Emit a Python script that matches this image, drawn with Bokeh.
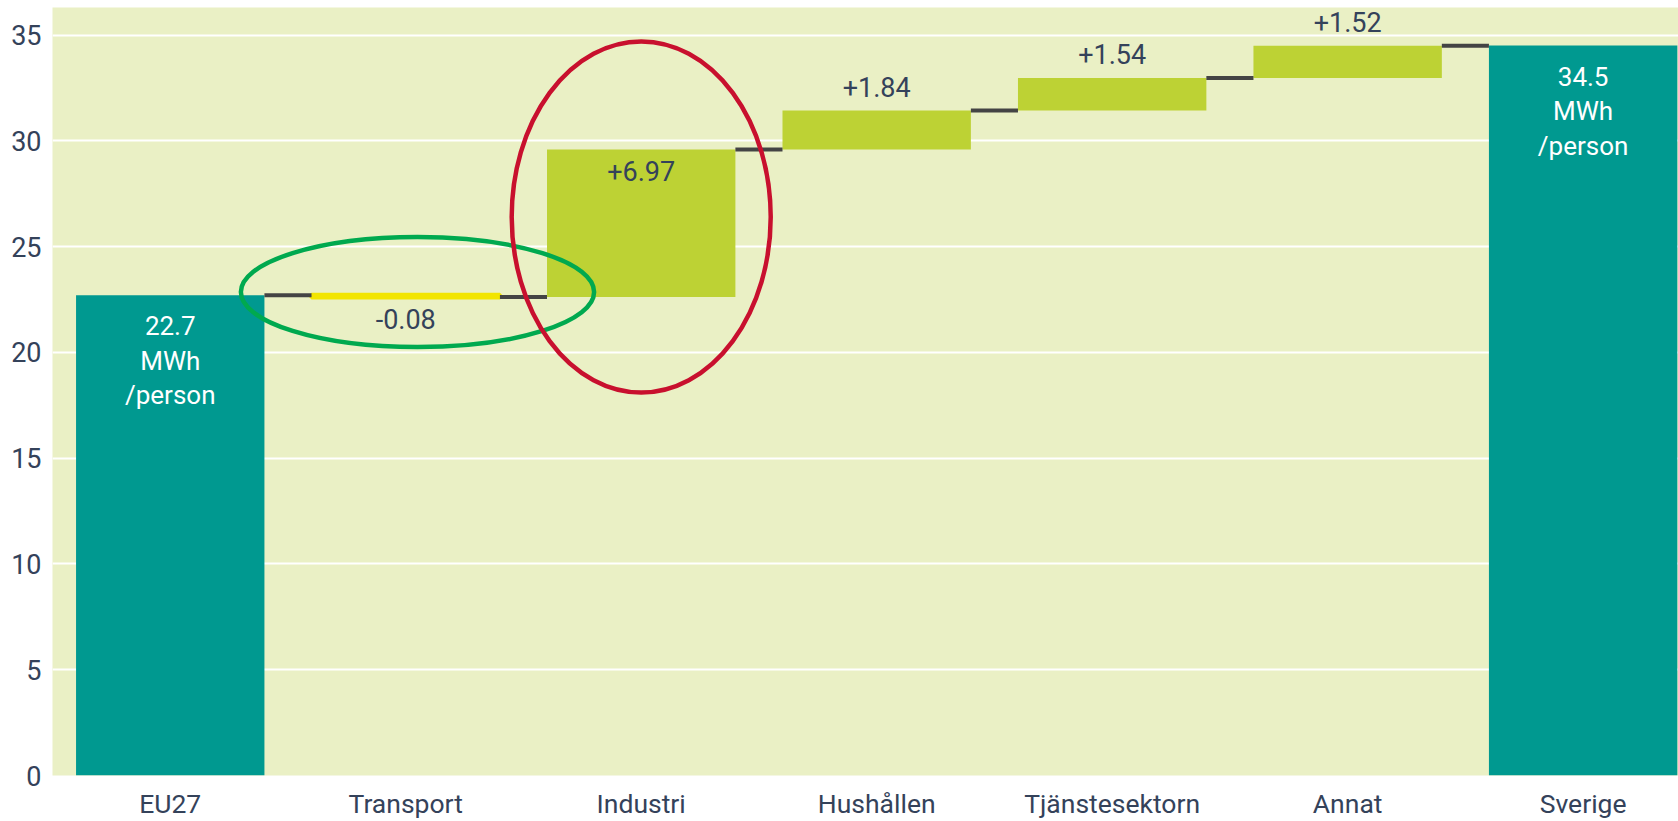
from bokeh.plotting import figure
from bokeh.models import Range1d, FixedTicker, ColumnDataSource
from bokeh.core.properties import value
from bokeh.embed import file_html
from bokeh.resources import INLINE

# ---- data ----
categories = ["EU27", "Transport", "Industri", "Hushållen", "Tjänstesektorn", "Annat", "Sverige"]
kinds = ["total", "delta", "delta", "delta", "delta", "delta", "total"]
values = [22.7, -0.08, 6.97, 1.84, 1.54, 1.52, 34.5]
total_labels = ["22.7\nMWh\n/person", "34.5\nMWh\n/person"]
delta_labels = ["-0.08", "+6.97", "+1.84", "+1.54", "+1.52"]
y_ticks = [0, 5, 10, 15, 20, 25, 30, 35]

# ---- styling ----
FONT = "Roboto"
TXT = "#34425a"
TEAL = "#009990"
GREEN = "#bdd234"
YELLOW = "#f2e500"
BG = "#eaf0c5"
CONN = "#444444"
BW = 0.8

# ---- waterfall geometry ----
xs, bottoms, tops, ends = [], [], [], []
running = 0.0
for i, (k, v) in enumerate(zip(kinds, values)):
    if k == "total":
        b, t = 0.0, v
        running = v
    else:
        b, t = running, running + v
        running = t
    xs.append(i)
    bottoms.append(min(b, t))
    tops.append(max(b, t))
    ends.append(running)

p = figure(width=1678, height=821, output_backend="svg", toolbar_location=None,
           x_range=Range1d(-0.5, 6.405), y_range=Range1d(0, 36.3),
           min_border_left=52, min_border_right=0, min_border_top=7, min_border_bottom=30)
p.background_fill_color = BG
p.border_fill_color = "white"
p.outline_line_color = None

# grid
p.xgrid.grid_line_color = None
p.ygrid.grid_line_color = "white"
p.ygrid.grid_line_width = 2
p.ygrid.ticker = FixedTicker(ticks=y_ticks)

# axes
p.yaxis.ticker = FixedTicker(ticks=y_ticks)
p.xaxis.ticker = FixedTicker(ticks=xs)
p.xaxis.major_label_overrides = {i: c for i, c in enumerate(categories)}
for ax in (p.xaxis[0], p.yaxis[0]):
    ax.axis_line_color = None
    ax.major_tick_line_color = None
    ax.minor_tick_line_color = None
    ax.major_tick_out = 0
    ax.major_tick_in = 0
    ax.minor_tick_out = 0
    ax.minor_tick_in = 0
    ax.major_label_text_font = FONT
    ax.major_label_text_color = TXT
p.xaxis.major_label_text_font_size = "26.5px"
p.yaxis.major_label_text_font_size = "27px"
p.xaxis.major_label_standoff = 12
p.yaxis.major_label_standoff = 11

# bars by kind
tot = dict(x=[], b=[], t=[])
inc = dict(x=[], b=[], t=[])
dec = dict(x=[], b=[], t=[])
for i, k in enumerate(kinds):
    d = tot if k == "total" else (inc if values[i] >= 0 else dec)
    d["x"].append(xs[i]); d["b"].append(bottoms[i]); d["t"].append(tops[i])

p.vbar(x="x", bottom="b", top="t", width=BW, source=ColumnDataSource(tot),
       fill_color=TEAL, line_color=None)
p.vbar(x="x", bottom="b", top="t", width=BW, source=ColumnDataSource(inc),
       fill_color=GREEN, line_color=None)
p.vbar(x="x", bottom="b", top="t", width=BW, source=ColumnDataSource(dec),
       fill_color=YELLOW, line_color=YELLOW, line_width=5)

# connectors
cx0 = [xs[i] + BW / 2 for i in range(len(xs) - 1)]
cx1 = [xs[i + 1] - BW / 2 for i in range(len(xs) - 1)]
cy = [ends[i] for i in range(len(xs) - 1)]
p.segment(x0=cx0, y0=cy, x1=cx1, y1=cy, line_color=CONN, line_width=4)

# total labels (inside, white)
tx = [xs[i] for i, k in enumerate(kinds) if k == "total"]
ty = [tops[i] for i, k in enumerate(kinds) if k == "total"]
p.text(x=tx, y=ty, text=total_labels, text_font=value(FONT), text_font_size="26px",
       text_color="white", text_align="center", text_baseline="top",
       text_line_height=1.15, y_offset=16)

# delta labels
din_x, din_y, din_t = [], [], []
dab_x, dab_y, dab_t = [], [], []
dbe_x, dbe_y, dbe_t = [], [], []
j = 0
for i, k in enumerate(kinds):
    if k != "delta":
        continue
    lab = delta_labels[j]; j += 1
    v = values[i]
    if abs(v) > 3:
        din_x.append(xs[i]); din_y.append(tops[i]); din_t.append(lab)
    elif v >= 0:
        dab_x.append(xs[i]); dab_y.append(tops[i]); dab_t.append(lab)
    else:
        dbe_x.append(xs[i]); dbe_y.append(bottoms[i]); dbe_t.append(lab)

common = dict(text_font=value(FONT), text_font_size="27px", text_color=TXT, text_align="center")
p.text(x=din_x, y=din_y, text=din_t, text_baseline="top", y_offset=12, **common)
p.text(x=dab_x, y=dab_y, text=dab_t, text_baseline="bottom", y_offset=-14, **common)
p.text(x=dbe_x, y=dbe_y, text=dbe_t, text_baseline="top", y_offset=12, **common)

# highlight ellipses (annotations)
p.ellipse(x=[xs[1] + 0.05], y=[22.85], width=1.5, height=5.2, fill_color=None,
          line_color="#00a94f", line_width=4.5)
p.ellipse(x=[xs[2]], y=[26.4], width=1.1, height=16.6, fill_color=None,
          line_color="#c8102e", line_width=4.5)

open("out.html", "w").write(file_html(p, INLINE))
